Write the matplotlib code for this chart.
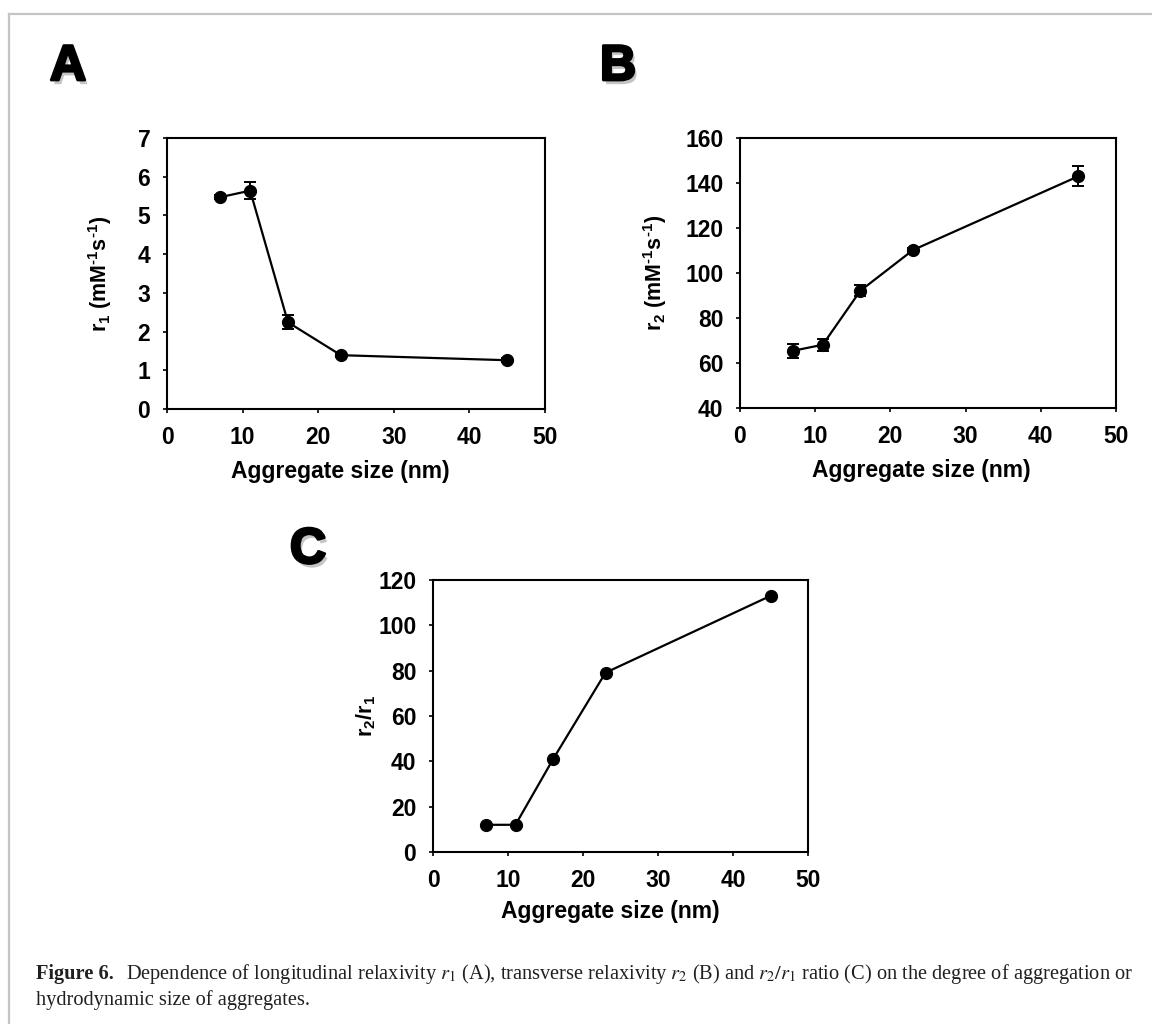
import matplotlib
matplotlib.use("Agg")
import matplotlib.pyplot as plt
import matplotlib.patheffects as pe
from matplotlib.lines import Line2D

# values
size_nm = [7, 11, 16, 23, 45]
r1 = [5.47, 5.64, 2.24, 1.39, 1.26]
r1_err = [0.05, 0.22, 0.18, 0.05, 0.05]
r2 = [65.4, 68.1, 92.1, 110.2, 143.0]
r2_err = [3.0, 2.6, 2.4, 1.0, 4.5]
ratio = [12.0, 12.0, 40.9, 79.1, 113.0]

x_ticks = [0, 10, 20, 30, 40, 50]
r1_ticks = [0, 1, 2, 3, 4, 5, 6, 7]
r2_ticks = [40, 60, 80, 100, 120, 140, 160]
ratio_ticks = [0, 20, 40, 60, 80, 100, 120]

plt.rcParams["font.family"] = ["Liberation Sans", "DejaVu Sans"]
plt.rcParams["mathtext.fontset"] = "custom"
plt.rcParams["mathtext.rm"] = "Liberation Sans:bold"
plt.rcParams["mathtext.it"] = "Liberation Sans:bold"
plt.rcParams["mathtext.bf"] = "Liberation Sans:bold"

W, H = 1152, 1024
fig = plt.figure(figsize=(W / 100, H / 100), dpi=100)


def px_axes(left, top, right, bottom):
    return fig.add_axes([left / W, 1 - bottom / H, (right - left) / W, (bottom - top) / H])


def style(ax, yticks, ylabel, ylab_x, xlab_x, xlab_y):
    ax.set_xlim(0, 50)
    ax.set_xticks(x_ticks)
    ax.set_ylim(yticks[0], yticks[-1])
    ax.set_yticks(yticks)
    for s in ax.spines.values():
        s.set_linewidth(1.5)
    ax.tick_params(direction="out", length=3, width=1.2, pad=9, labelsize=16.5)
    for lab in ax.get_xticklabels() + ax.get_yticklabels():
        lab.set_fontweight("bold")
    ax.set_xlabel("Aggregate size (nm)", fontsize=16.5, fontweight="bold")
    ax.set_ylabel(ylabel, fontsize=15.5, fontweight="bold")
    ax.xaxis.set_label_coords(xlab_x, xlab_y)
    ax.yaxis.set_label_coords(ylab_x, 0.5)


def draw(ax, y, err=None):
    if err is None:
        ax.plot(size_nm, y, color="black", lw=1.6, marker="o", ms=8.5)
    else:
        ax.errorbar(size_nm, y, yerr=err, color="black", lw=1.6, marker="o", ms=8.5,
                    elinewidth=1.4, capsize=4, capthick=1.4)


axA = px_axes(167, 138, 545, 409)
draw(axA, r1, r1_err)
style(axA, r1_ticks, r"r$_1$ (mM$^{\text{-}1}$s$^{\text{-}1}$)", -0.14, 0.458, -0.188)

axB = px_axes(740, 138, 1116, 408)
draw(axB, r2, r2_err)
style(axB, r2_ticks, r"r$_2$ (mM$^{\text{-}1}$s$^{\text{-}1}$)", -0.188, 0.481, -0.19)

axC = px_axes(433, 580, 808, 852)
draw(axC, ratio)
style(axC, ratio_ticks, "r$_2$/r$_1$", -0.147, 0.472, -0.176)

# panel letters with shadow
letter_fx = [pe.withSimplePatchShadow(offset=(2, -3), shadow_rgbFace="0.55", alpha=0.5),
             pe.withStroke(linewidth=2, foreground="black")]
for letter, lx, ly in [("A", 50, 80), ("B", 600, 80), ("C", 290, 563)]:
    fig.text(lx / W, 1 - ly / H, letter, fontsize=36, fontweight="bold",
             ha="left", va="baseline", path_effects=letter_fx)

# page border
fig.add_artist(Line2D([9 / W, 1], [1 - 14 / H, 1 - 14 / H], color="#c4c4c4", lw=1.6,
                      transform=fig.transFigure))
fig.add_artist(Line2D([9 / W, 9 / W], [0, 1 - 14 / H], color="#c4c4c4", lw=1.6,
                      transform=fig.transFigure))

# caption
cap = dict(family="Liberation Serif", fontsize=14.7, color="#231f20", va="baseline",
           math_fontfamily="stix")
fig.text(36 / W, 1 - 979 / H, "Figure 6.", fontweight="bold", **cap)
fig.text(126 / W, 1 - 979 / H,
         "Dependence of longitudinal relaxivity $r_1$ (A), transverse relaxivity $r_2$ (B) "
         "and $r_2/r_1$ ratio (C) on the degree of aggregation or",
         fontweight="normal", **cap)
fig.text(36 / W, 1 - 1005 / H, "hydrodynamic size of aggregates.", fontweight="normal", **cap)

fig.savefig("out.png", dpi=100)
